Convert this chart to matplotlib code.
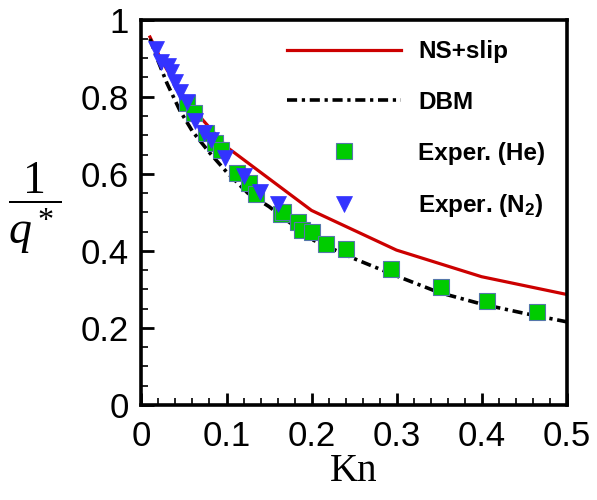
import matplotlib.pyplot as plt
import numpy as np
from matplotlib.ticker import MultipleLocator

# NS+slip curve
kn_ns = [0.01, 0.02, 0.03, 0.04, 0.05, 0.06, 0.07, 0.08, 0.1, 0.2, 0.3, 0.4, 0.5]
q_ns = [0.955, 0.91, 0.87, 0.835, 0.80, 0.77, 0.745, 0.72, 0.67, 0.505, 0.402, 0.333, 0.287]

# DBM curve
kn_dbm = [0.01, 0.02, 0.03, 0.045, 0.06, 0.08, 0.1, 0.125, 0.15, 0.2, 0.25, 0.3, 0.35, 0.4, 0.45, 0.5]
q_dbm = [0.95, 0.89, 0.835, 0.765, 0.71, 0.655, 0.605, 0.55, 0.515, 0.43, 0.38, 0.335, 0.292, 0.262, 0.238, 0.216]

# experiments, He
kn_he = [0.053, 0.062, 0.076, 0.086, 0.094, 0.112, 0.127, 0.135, 0.164, 0.167, 0.184,
         0.189, 0.200, 0.217, 0.240, 0.293, 0.352, 0.407, 0.465]
q_he = [0.783, 0.758, 0.705, 0.679, 0.662, 0.601, 0.575, 0.547, 0.496, 0.501, 0.475,
        0.455, 0.449, 0.418, 0.405, 0.352, 0.307, 0.270, 0.242]

# experiments, N2
kn_n2 = [0.017, 0.0235, 0.031, 0.035, 0.040, 0.045, 0.053, 0.063, 0.074, 0.082, 0.098, 0.120, 0.139, 0.160]
q_n2 = [0.923, 0.891, 0.880, 0.865, 0.839, 0.813, 0.787, 0.738, 0.705, 0.688, 0.640, 0.594, 0.553, 0.521]

xticks = [0, 0.1, 0.2, 0.3, 0.4, 0.5]
xticklabels = ['0', '0.1', '0.2', '0.3', '0.4', '0.5']
yticks = [0, 0.2, 0.4, 0.6, 0.8, 1]
yticklabels = ['0', '0.2', '0.4', '0.6', '0.8', '1']

plt.rcParams['font.family'] = ['Liberation Sans', 'DejaVu Sans']
plt.rcParams['mathtext.fontset'] = 'custom'
plt.rcParams['mathtext.rm'] = 'Liberation Serif'
plt.rcParams['mathtext.it'] = 'Liberation Serif:italic'
plt.rcParams['mathtext.bf'] = 'Liberation Sans:bold'

fig = plt.figure(figsize=(5.97, 5.0), dpi=100)
ax = fig.add_axes([0.237, 0.19, 0.712, 0.7706])

ax.plot(kn_ns, q_ns, color='#cc0000', lw=2.3, label='NS+slip')
ax.plot(kn_dbm, q_dbm, color='black', lw=2.6, dashes=(2.8, 1.3, 0.9, 1.3), label='DBM')
ax.plot(kn_he, q_he, 's', color='#00cc00', mec='#5577aa', mew=0.8, ms=11, label='Exper. (He)')
ax.plot(kn_n2, q_n2, 'v', color='#3333ff', mec='#3333ff', mew=0.5, ms=11, label=r'Exper. (N$_\mathbf{2}$)')

ax.set_xlim(0, 0.5)
ax.set_ylim(0, 1)
ax.set_xticks(xticks)
ax.set_xticklabels(xticklabels)
ax.set_yticks(yticks)
ax.set_yticklabels(yticklabels)
ax.xaxis.set_minor_locator(MultipleLocator(0.02))
ax.yaxis.set_minor_locator(MultipleLocator(0.05))
ax.tick_params(which='major', direction='in', length=9, width=2, labelsize=25)
ax.tick_params(axis='x', which='major', pad=11)
ax.tick_params(axis='y', which='major', pad=9)
ax.tick_params(which='minor', direction='in', length=5, width=1.2)
for s in ax.spines.values():
    s.set_linewidth(2.6)

ax.set_xlabel('Kn', family='Liberation Serif', fontsize=28, labelpad=0)
fig.text(0.058, 0.584, r'$\dfrac{1}{q^*}$', fontsize=33, ha='center', va='center')

ax.legend(loc='upper left', bbox_to_anchor=(0.342, 0.947), frameon=False,
          prop={'weight': 'bold', 'size': 17.5}, handlelength=4.7, handletextpad=0.7,
          labelspacing=1.14, borderpad=0, borderaxespad=0)

fig.savefig('out.png', dpi=100)
